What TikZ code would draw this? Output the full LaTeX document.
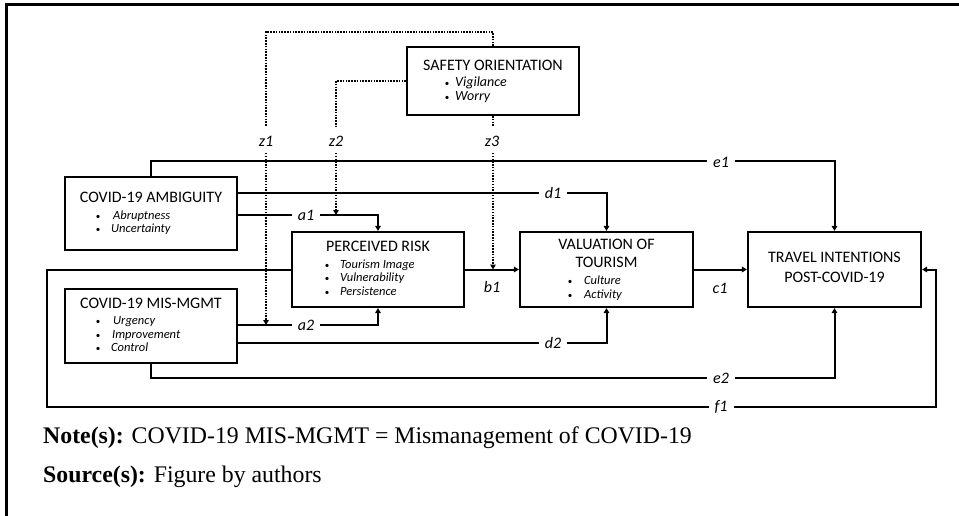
\documentclass[tikz,border=0pt]{standalone}
\usepackage{fontspec}
\setmainfont{Carlito}
\newfontfamily\timesf{Liberation Serif}
\usetikzlibrary{arrows.meta}
\begin{document}
\begin{tikzpicture}[x=1pt,y=-1pt,
  box/.style={draw,line width=2.1pt,inner sep=0pt},
  con/.style={line width=2pt},
  arr/.style={con,-{Triangle[length=5pt,width=5.5pt]}},
  dotl/.style={line width=1.8pt,dash pattern=on 1.5pt off 1.3pt},
  dotarr/.style={dotl,-{Triangle[length=5pt,width=5.5pt]}},
  lab/.style={fill=white,inner xsep=6pt,inner ysep=2pt,font=\fontsize{16}{16}\selectfont\itshape},
  zlab/.style={inner sep=0pt,font=\fontsize{16}{16}\selectfont\itshape},
  ttl/.style={font=\fontsize{16}{18}\selectfont,inner sep=0pt,anchor=mid},
  itm/.style={font=\fontsize{12.5}{14}\selectfont\itshape,inner sep=0pt,anchor=mid west},
  itmb/.style={itm,font=\fontsize{14}{16}\selectfont\itshape},
  bul/.style={font=\fontsize{9}{10}\selectfont,inner sep=0pt,anchor=center},
  note/.style={font=\timesf\fontsize{23.8}{28}\selectfont,inner sep=0pt,anchor=base west}
]
\useasboundingbox (0,0) rectangle (959,516);
% frame
\draw[line width=3.5pt] (6.5,518) -- (6.5,4.7) -- (961,4.7);

% boxes
\node[box,minimum width=172pt,minimum height=68pt] (so) at (493,81) {};
\node[box,minimum width=172pt,minimum height=73pt] (amb) at (151,213.5) {};
\node[box,minimum width=172pt,minimum height=75pt] (pr) at (378,269.5) {};
\node[box,minimum width=173pt,minimum height=75pt] (val) at (606.5,269.5) {};
\node[box,minimum width=173pt,minimum height=75pt] (ti) at (834.5,269.5) {};
\node[box,minimum width=172pt,minimum height=74pt] (mm) at (151,326) {};

% box texts
\node[ttl] (soT) at (493,68) {SAFETY ORIENTATION};
\node[bul] (soB1) at (447,84) {•};
\node[itmb] (soI1) at (455,84) {Vigilance};
\node[bul] (soB2) at (447,98) {•};
\node[itmb] (soI2) at (455,98) {Worry};

\node[ttl] (ambT) at (151,200) {COVID-19 AMBIGUITY};
\node[bul] (ambB1) at (98,217) {•};
\node[itm] (ambI1) at (113,217) {Abruptness};
\node[bul] (ambB2) at (98,230) {•};
\node[itm] (ambI2) at (111,230) {Uncertainty};

\node[ttl] (prT) at (378,249) {PERCEIVED RISK};
\node[bul] (prB1) at (327,266) {•};
\node[itm] (prI1) at (340,266) {Tourism Image};
\node[bul] (prB2) at (327,279) {•};
\node[itm] (prI2) at (340,279) {Vulnerability};
\node[bul] (prB3) at (327,293) {•};
\node[itm] (prI3) at (340,293) {Persistence};

\node[ttl] (valT1) at (606.5,247) {VALUATION OF};
\node[ttl] (valT2) at (606.5,265) {TOURISM};
\node[bul] (valB1) at (570,282) {•};
\node[itm] (valI1) at (584,282) {Culture};
\node[bul] (valB2) at (570,296) {•};
\node[itm] (valI2) at (584,296) {Activity};

\node[ttl] (tiT1) at (834.5,260) {TRAVEL INTENTIONS};
\node[ttl] (tiT2) at (834.5,280) {POST-COVID-19};

\node[ttl] (mmT) at (151,306) {COVID-19 MIS-MGMT};
\node[bul] (mmB1) at (98,322) {•};
\node[itm] (mmI1) at (113,322) {Urgency};
\node[bul] (mmB2) at (98,336) {•};
\node[itm] (mmI2) at (112,336) {Improvement};
\node[bul] (mmB3) at (98,349) {•};
\node[itm] (mmI3) at (111,349) {Control};

% solid connectors
\draw[arr] (amb.north) -- ++(0,-15) -| (ti.north);
\draw[arr] (amb.east |- 0,193) -| (val.north);
\draw[arr] (amb.east |- 0,215) -| (pr.north);
\draw[arr] (pr.east) -- (val.west);
\draw[arr] (val.east) -- (ti.west);
\draw[arr] (mm.east |- 0,325) -| (pr.south);
\draw[arr] (mm.east |- 0,343) -| (val.south);
\draw[arr] (mm.south) -- (151,378) -| (ti.south);
\coordinate (fL) at (47,407);
\coordinate (fR) at (936,407);
\draw[arr] (pr.west) -- (pr.west -| fL) -- (fL) -- (fR) -- (fR |- ti.east) -- (ti.east);

% dotted connectors
\coordinate (z1top) at (266,32);
\coordinate (z1a) at (266,127);
\coordinate (z1b) at (266,153);
\coordinate (z1e) at (266,325);
\draw[dotl] (so.north) -- (so.north |- z1top) -- (z1top) -- (z1a);
\draw[dotarr] (z1b) -- (z1e);
\coordinate (z2a) at (336,127);
\coordinate (z2b) at (336,153);
\coordinate (z2e) at (336,215);
\draw[dotl] (so.west |- 0,81) -| (z2a);
\draw[dotarr] (z2b) -- (z2e);
\coordinate (z3a) at (493,127);
\coordinate (z3b) at (493,153);
\coordinate (z3e) at (493,269.5);
\draw[dotl] (so.south) -- (z3a);
\draw[dotarr] (z3b) -- (z3e);

% labels
\node[zlab] (lz1) at (266,141) {z1};
\node[zlab] (lz2) at (336,141) {z2};
\node[zlab] (lz3) at (492,141) {z3};
\node[lab] (le1) at (721,162) {e1};
\node[lab] (ld1) at (553,193) {d1};
\node[lab] (la1) at (306,215) {a1};
\node[lab] (la2) at (306,325) {a2};
\node[lab] (ld2) at (553,343) {d2};
\node[lab] (le2) at (721,378) {e2};
\node[lab] (lf1) at (721,407) {f1};
\node[zlab] (lb1) at (492,287) {b1};
\node[zlab] (lc1) at (720,288) {c1};

% notes
\node[note] (note) at (43,443) {\textbf{Note(s):} COVID-19 MIS-MGMT = Mismanagement of COVID-19};
\node[note] (src) at (43,482) {\textbf{Source(s):} Figure by authors};
\end{tikzpicture}
\end{document}
